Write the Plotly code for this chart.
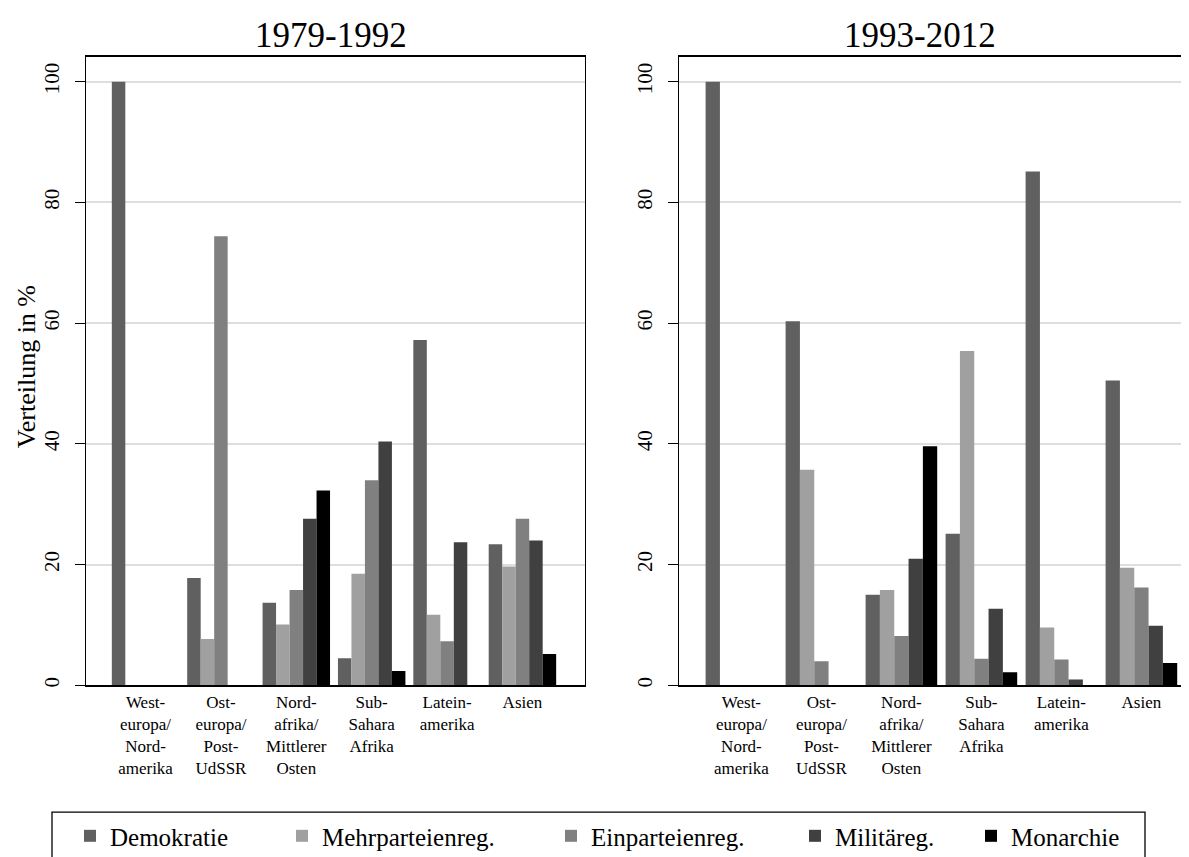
import plotly.graph_objects as go

# ---------------- data ----------------
categories = [
    "West-<br>europa/<br>Nord-<br>amerika",
    "Ost-<br>europa/<br>Post-<br>UdSSR",
    "Nord-<br>afrika/<br>Mittlerer<br>Osten",
    "Sub-<br>Sahara<br>Afrika",
    "Latein-<br>amerika",
    "Asien",
]
series_names = ["Demokratie", "Mehrparteienreg.", "Einparteienreg.", "Militäreg.", "Monarchie"]
series_colors = ["#606060", "#a0a0a0", "#808080", "#404040", "#000000"]

# 1979-1992
p1_demokratie = [100.0, 17.8, 13.7, 4.5, 57.2, 23.4]
p1_mehrpartei = [0.0, 7.7, 10.1, 18.5, 11.7, 19.7]
p1_einpartei = [0.0, 74.4, 15.8, 34.0, 7.3, 27.6]
p1_militaer = [0.0, 0.0, 27.6, 40.4, 23.7, 24.0]
p1_monarchie = [0.0, 0.0, 32.3, 2.4, 0.0, 5.2]

# 1993-2012
p2_demokratie = [100.0, 60.3, 15.0, 25.1, 85.1, 50.5]
p2_mehrpartei = [0.0, 35.7, 15.8, 55.4, 9.6, 19.5]
p2_einpartei = [0.0, 4.0, 8.2, 4.4, 4.3, 16.2]
p2_militaer = [0.0, 0.0, 21.0, 12.7, 1.0, 9.9]
p2_monarchie = [0.0, 0.0, 39.6, 2.2, 0.0, 3.7]

panel_titles = ["1979-1992", "1993-2012"]
y_ticks = [0, 20, 40, 60, 80, 100]
y_title = "Verteilung in %"

p1 = [p1_demokratie, p1_mehrpartei, p1_einpartei, p1_militaer, p1_monarchie]
p2 = [p2_demokratie, p2_mehrpartei, p2_einpartei, p2_militaer, p2_monarchie]

FONT = "Liberation Serif"
W, H = 1189, 857
legend_widths = [167, 224, 199, 131, 120]

fig = go.Figure()
for i, name in enumerate(series_names):
    fig.add_trace(go.Bar(x=categories, y=p1[i], name=name, marker_color=series_colors[i],
                         marker_line_width=0, legendgroup=name, showlegend=True,
                         legendwidth=legend_widths[i], xaxis="x", yaxis="y"))
for i, name in enumerate(series_names):
    fig.add_trace(go.Bar(x=categories, y=p2[i], name=name, marker_color=series_colors[i],
                         marker_line_width=0, legendgroup=name, showlegend=False,
                         xaxis="x2", yaxis="y2"))

ydom = [1 - 679 / H, 1 - 49 / H]
yrange = [0, 104.1]

common_x = dict(type="category", showline=True, linecolor="black", linewidth=1.6,
                mirror=True, ticks="", showgrid=False, zeroline=False,
                tickfont=dict(family=FONT, size=17, color="black"), tickangle=0)
common_y = dict(range=yrange, domain=ydom, tickvals=y_ticks, showline=True,
                linecolor="black", linewidth=1, ticks="outside", ticklen=10,
                tickcolor="black", tickwidth=1, showgrid=True, gridcolor="#dedede",
                gridwidth=2, zeroline=False, tickangle=-90, ticklabelstandoff=8,
                tickfont=dict(family=FONT, size=21, color="black"))

fig.update_layout(
    width=W, height=H, autosize=False,
    margin=dict(l=0, r=0, t=0, b=0),
    paper_bgcolor="white", plot_bgcolor="white",
    font=dict(family=FONT, color="black"),
    barmode="group", bargap=0.105, bargroupgap=0,
    xaxis=dict(domain=[78 / W, 577 / W], range=[-0.79, 5.83], anchor="y", **common_x),
    xaxis2=dict(domain=[671 / W, 1.0], range=[-0.78, 5.695], anchor="y2", **common_x),
    yaxis=dict(anchor="x", mirror=True, **common_y),
    yaxis2=dict(anchor="x2", mirror=False, **common_y),
    showlegend=True,
    legend=dict(orientation="h", x=62 / W, y=1 - 830 / H, xanchor="left", yanchor="middle",
                font=dict(family=FONT, size=25, color="black"), borderwidth=0,
                bgcolor="rgba(0,0,0,0)", traceorder="normal"),
    shapes=[dict(type="rect", xref="paper", yref="paper", x0=44 / W, x1=1137 / W,
                 y0=1 - 852 / H, y1=1 - 806 / H, line=dict(color="black", width=1.3))],
    annotations=[
        dict(text=panel_titles[0], x=323 / W, y=1 - 28 / H, xref="paper", yref="paper",
             xanchor="center", yanchor="middle", showarrow=False,
             font=dict(family=FONT, size=35, color="black")),
        dict(text=panel_titles[1], x=912 / W, y=1 - 28 / H, xref="paper", yref="paper",
             xanchor="center", yanchor="middle", showarrow=False,
             font=dict(family=FONT, size=35, color="black")),
        dict(text=y_title, x=18 / W, y=1 - 360 / H, xref="paper", yref="paper",
             xanchor="center", yanchor="middle", showarrow=False, textangle=-90,
             font=dict(family=FONT, size=26, color="black")),
    ],
)

fig.write_html("out.html")
